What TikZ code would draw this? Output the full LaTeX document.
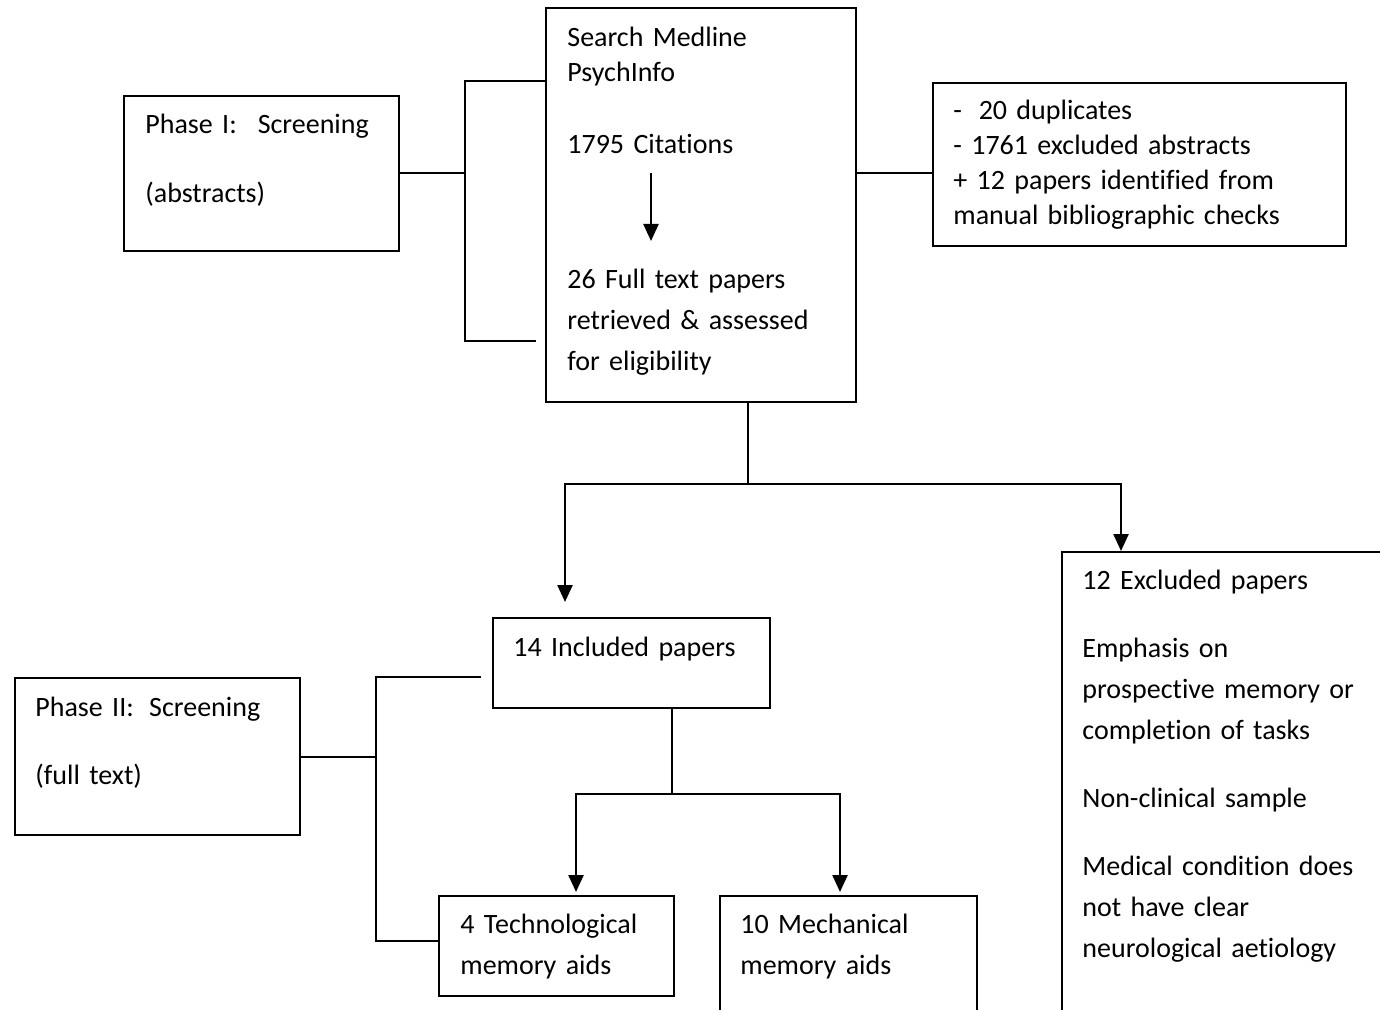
\documentclass[tikz,border=0pt]{standalone}
\usepackage{fontspec}
\setmainfont[Ligatures={NoCommon,NoContextual,NoRequired}]{Carlito}
\usepackage{tikz}
\usetikzlibrary{arrows.meta,positioning,calc}

\newcommand{\fstrut}{\rule{0pt}{10pt}}
\newcommand{\fsing}{\fontsize{14pt}{17.5pt}\selectfont}
\newcommand{\fwide}{\fontsize{14pt}{20.5pt}\selectfont}

\begin{document}
\begin{tikzpicture}[x=0.5pt,y=-0.5pt,
    box/.style 2 args={draw, line width=1pt, anchor=north west, inner sep=0pt,
        minimum width=#1*0.5pt, minimum height=#2*0.5pt},
    txt/.style={anchor=north west, inner sep=0pt, align=left, text width=190pt},
    line/.style={line width=1pt},
    arr/.style={-{Triangle[length=8.5pt,width=7.5pt]}, line width=1.2pt}]

    \useasboundingbox (0,0) rectangle (1380,1010);

    % Draw boxes
    \node[box={275}{155}] (phase1) at (123,95) {};
    \node[box={310}{394}] (search) at (545,7) {};
    \node[box={413}{163}] (dup) at (932,82) {};
    \node[box={277}{90}] (incl) at (492,617) {};
    \node[box={285}{157}] (phase2) at (14,677) {};
    \node[box={235}{100}] (tech) at (438,895) {};
    \node[box={257}{140}] (mech) at (719,895) {};
    \node[box={340}{480}] (excl) at (1061,551) {};

    % Add texts
    \node[txt, font=\fsing] (phase1txt) at ($(phase1.north west)+(22,18)$)
        {\fstrut Phase I:\hspace{0.75em}Screening\\[17pt](abstracts)};
    \node[txt, font=\fsing] (searchtxt) at ($(search.north west)+(22,19)$)
        {\fstrut Search Medline\\PsychInfo\\[18.5pt]1795 Citations\\[50pt]26 Full text papers\\[3pt]retrieved \& assessed\\[3pt]for eligibility};
    \node[txt, font=\fsing] (duptxt) at ($(dup.north west)+(21,17)$)
        {\fstrut -\hspace{0.6em}20 duplicates\\- 1761 excluded abstracts\\+ 12 papers identified from\\manual bibliographic checks};
    \node[txt, font=\fwide] (incltxt) at ($(incl.north west)+(21,19)$)
        {\fstrut 14 Included papers};
    \node[txt, font=\fsing] (phase2txt) at ($(phase2.north west)+(21,19)$)
        {\fstrut Phase II:\hspace{0.55em}Screening\\[16.5pt](full text)};
    \node[txt, font=\fwide] (techtxt) at ($(tech.north west)+(22,18)$)
        {\fstrut 4 Technological\\memory aids};
    \node[txt, font=\fwide] (mechtxt) at ($(mech.north west)+(21,18)$)
        {\fstrut 10 Mechanical\\memory aids};
    \node[txt, font=\fwide] (excltxt) at ($(excl.north west)+(21,18)$)
        {\fstrut 12 Excluded papers\\[13.5pt]Emphasis on\\prospective memory or\\completion of tasks\\[13.5pt]Non-clinical sample\\[13.5pt]Medical condition does\\not have clear\\neurological aetiology};

    % Arrow inside search box
    \draw[arr] ($(search.north west)+(106,166)$) -- ++(0,68);

    % Phase I bracket
    \coordinate (brA) at (465,81);
    \coordinate (brB) at (465,341);
    \draw[line] (phase1.east) -- (phase1.east -| brA);
    \draw[line] (search.west |- brA) -- (brA) -- (brB) -- ++(71,0);

    % Search to duplicates
    \draw[line] (search.east |- phase1.east) -- (dup.west |- phase1.east);

    % Split after full text screening
    \coordinate (split) at (748,484);
    \draw[line] (search.south -| split) -- (split);
    \draw[arr] (split) -| ($(incl.north west)+(73,-15)$);
    \draw[arr] (split) -| ($(excl.north west)+(60,0)$);

    % Split of included papers
    \coordinate (splitinc) at (672,794);
    \draw[line] (incl.south -| splitinc) -- (splitinc);
    \draw[arr] (splitinc) -| ($(tech.north west)+(138,-3)$);
    \draw[arr] (splitinc) -| ($(mech.north west)+(121,-3)$);

    % Phase II bracket
    \coordinate (brC) at (376,677);
    \coordinate (brD) at (376,941);
    \draw[line] (phase2.east) -- (phase2.east -| brC);
    \draw[line] ($(incl.west |- brC)+(-11,0)$) -- (brC) -- (brD) -- (tech.west |- brD);
\end{tikzpicture}
\end{document}
